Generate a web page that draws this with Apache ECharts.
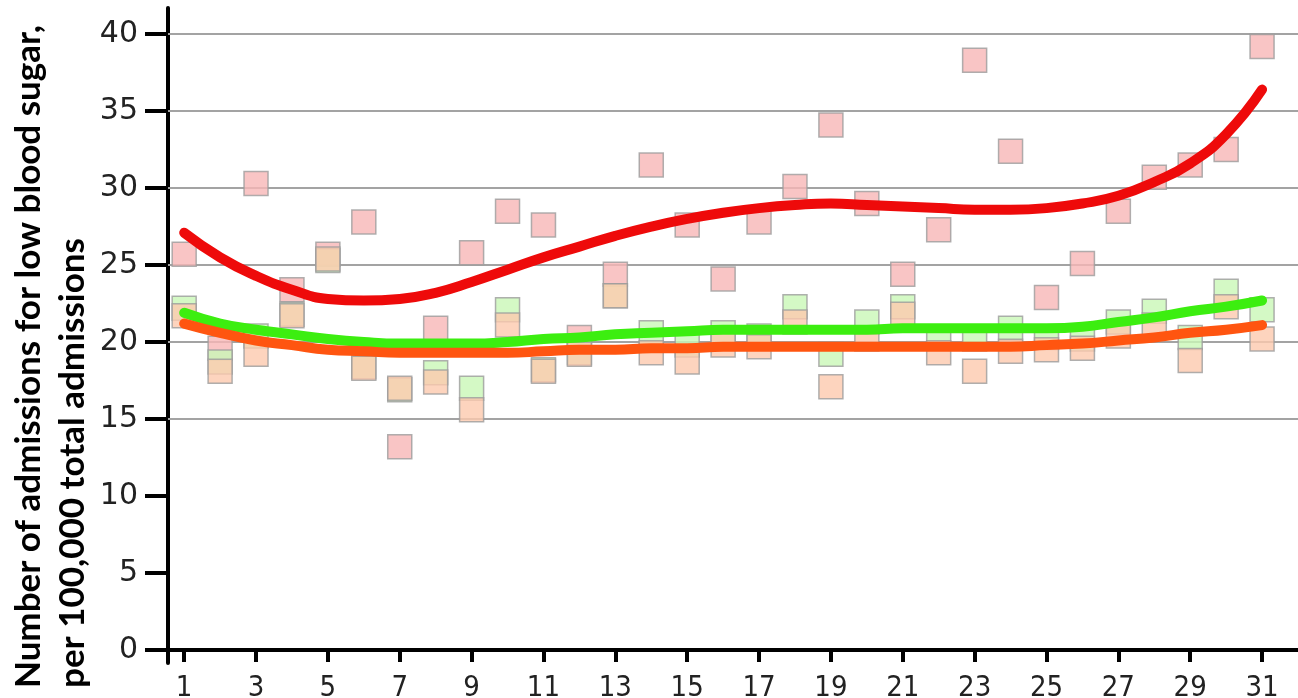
<!DOCTYPE html>
<html>
<head>
<meta charset="utf-8">
<style>
  html, body { margin: 0; padding: 0; background: #fff; }
  #chart { width: 1298px; height: 698px; }
</style>
<script src="https://cdn.jsdelivr.net/npm/echarts@6/dist/echarts.min.js"></script>
</head>
<body>
<div id="chart"></div>
<script>
// Day of month
const days = [1, 2, 3, 4, 5, 6, 7, 8, 9, 10, 11, 12, 13, 14, 15, 16, 17, 18, 19, 20, 21, 22, 23, 24, 25, 26, 27, 28, 29, 30, 31];

// Admissions per 100,000 — daily points, one array per group
const redPoints = [25.7, 19.6, 30.3, 23.4, 25.7, 27.8, 13.2, 20.9, 25.8, 28.5, 27.6, 20.3, 24.4, 31.5, 27.6, 24.1, 27.8, 30.1, 34.1, 29.0, 24.4, 27.3, 38.3, 32.4, 22.9, 25.1, 28.5, 30.7, 31.5, 32.5, 39.2];
const greenPoints = [22.2, 18.7, 20.4, 21.8, 25.3, 18.4, 16.9, 18.0, 17.0, 22.1, 18.2, 19.3, 23.0, 20.6, 19.8, 20.6, 20.4, 22.3, 19.2, 21.3, 22.3, 20.3, 20.2, 20.9, 20.3, 20.2, 21.3, 22.0, 20.3, 23.3, 22.1];
const orangePoints = [21.7, 18.1, 19.2, 21.7, 25.4, 18.3, 17.0, 17.4, 15.6, 21.1, 18.1, 19.2, 23.0, 19.3, 18.7, 19.8, 19.7, 21.3, 17.1, 20.2, 21.8, 19.3, 18.1, 19.4, 19.5, 19.6, 20.4, 21.1, 18.8, 22.3, 20.2];

// Smoothed trend for each group
const redTrend = [27.1, 25.5, 24.3, 23.4, 22.8, 22.7, 22.8, 23.2, 23.9, 24.7, 25.5, 26.2, 26.9, 27.5, 28.0, 28.4, 28.7, 28.9, 29.0, 28.9, 28.8, 28.7, 28.6, 28.6, 28.7, 29.0, 29.5, 30.4, 31.6, 33.5, 36.4];
const greenTrend = [21.9, 21.2, 20.8, 20.5, 20.2, 20.0, 19.9, 19.9, 19.9, 20.0, 20.2, 20.3, 20.5, 20.6, 20.7, 20.8, 20.8, 20.8, 20.8, 20.8, 20.9, 20.9, 20.9, 20.9, 20.9, 21.0, 21.3, 21.6, 22.0, 22.3, 22.7];
const orangeTrend = [21.2, 20.6, 20.1, 19.8, 19.5, 19.4, 19.3, 19.3, 19.3, 19.3, 19.4, 19.5, 19.5, 19.6, 19.6, 19.7, 19.7, 19.7, 19.7, 19.7, 19.7, 19.7, 19.7, 19.7, 19.8, 19.9, 20.1, 20.3, 20.6, 20.8, 21.1];

// Axis ticks and reference lines
const xTicks = [1, 3, 5, 7, 9, 11, 13, 15, 17, 19, 21, 23, 25, 27, 29, 31];
const yTicks = [0, 5, 10, 15, 20, 25, 30, 35, 40];
const gridValues = [15, 20, 25, 30, 35, 40];

const yTitle = 'Number of admissions for low blood sugar,\nper 100,000 total admissions';

const pairs = (vals) => days.map((d, i) => [d, vals[i]]);

const squareStyle = (fill) => ({ color: fill, borderColor: '#9c9c9c', borderWidth: 1.5 });
const trendStyle = (stroke) => ({ color: stroke, width: 10, cap: 'round', join: 'round' });

const chart = echarts.init(document.getElementById('chart'), null, { renderer: 'canvas' });

chart.setOption({
  animation: false,
  backgroundColor: '#ffffff',
  grid: { left: 168, right: 0, top: 8, bottom: 35, containLabel: false, outerBoundsMode: 'none' },
  xAxis: {
    type: 'value',
    min: 0.55,
    max: 32,
    axisLine: { show: true, onZero: true, lineStyle: { color: '#000', width: 4 } },
    axisTick: { show: true, customValues: xTicks, length: 12, lineStyle: { color: '#000', width: 4 } },
    axisLabel: {
      customValues: xTicks,
      margin: 11,
      color: '#222',
      fontSize: 29,
      fontFamily: '"Liberation Sans Narrow", "DejaVu Sans Condensed", sans-serif'
    },
    splitLine: { show: false }
  },
  yAxis: {
    type: 'value',
    min: -0.85,
    max: 41.7,
    axisLine: { show: true, onZero: false, lineStyle: { color: '#000', width: 4 } },
    axisTick: { show: true, customValues: yTicks, length: 23, lineStyle: { color: '#000', width: 4 } },
    axisLabel: {
      customValues: yTicks,
      margin: 30,
      color: '#222',
      fontSize: 30,
      fontFamily: '"DejaVu Sans", sans-serif'
    },
    splitLine: { show: false }
  },
  graphic: [{
    type: 'text',
    rotation: Math.PI / 2,
    x: 7,
    y: 688,
    style: {
      text: yTitle,
      font: 'bold 35px Lato, "Open Sans", sans-serif',
      fill: '#000',
      align: 'left',
      verticalAlign: 'top',
      lineHeight: 44
    }
  }],
  series: [
    {
      name: 'grid',
      type: 'line',
      data: [],
      z: 1,
      markLine: {
        silent: true,
        symbol: ['none', 'none'],
        z: 1,
        label: { show: false },
        lineStyle: { color: '#a3a3a3', width: 2, type: 'solid' },
        emphasis: { disabled: true },
        data: gridValues.map((v) => ({ yAxis: v }))
      }
    },
    { name: 'red points', type: 'scatter', symbol: 'rect', symbolSize: 24, z: 2, itemStyle: squareStyle('#f8b6b6'), data: pairs(redPoints) },
    { name: 'green points', type: 'scatter', symbol: 'rect', symbolSize: 24, z: 2, itemStyle: squareStyle('#c9f7b6'), data: pairs(greenPoints) },
    { name: 'orange points', type: 'scatter', symbol: 'rect', symbolSize: 24, z: 2, itemStyle: squareStyle('#fcc9ae'), data: pairs(orangePoints) },
    { name: 'red trend', type: 'line', smooth: true, showSymbol: false, z: 3, lineStyle: trendStyle('#ee0a0a'), data: pairs(redTrend) },
    { name: 'green trend', type: 'line', smooth: true, showSymbol: false, z: 3, lineStyle: trendStyle('#3cee10'), data: pairs(greenTrend) },
    { name: 'orange trend', type: 'line', smooth: true, showSymbol: false, z: 3, lineStyle: trendStyle('#ff5510'), data: pairs(orangeTrend) }
  ]
});
</script>
</body>
</html>
